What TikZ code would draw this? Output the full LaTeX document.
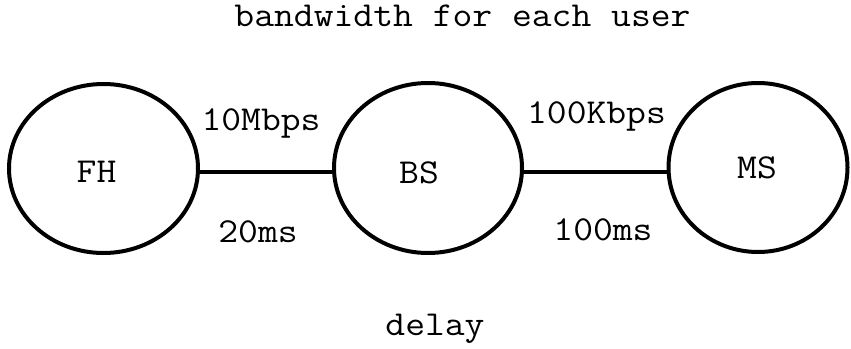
\documentclass[tikz,border=0pt]{standalone}
\usetikzlibrary{shapes.geometric}
\tikzset{
  ell/.style={ellipse, draw=black, line width=4pt, inner sep=0pt},
  txt/.style={font=\ttfamily\fontsize{35}{40}\selectfont, inner sep=0pt, anchor=base, xscale=1.1},
  link/.style={draw=black, line width=3.5pt}
}
\begin{document}
\begin{tikzpicture}[x=1pt,y=-1pt]
\useasboundingbox (0,0) rectangle (851,348);
\node[ell, minimum width=189pt, minimum height=169pt] (FH) at (103.5,168.5) {};
\node[ell, minimum width=188pt, minimum height=170pt] (BS) at (428,168) {};
\node[ell, minimum width=179pt, minimum height=169pt] (MS) at (758,167.5) {};
\node[txt] (FHt) at (96.5,182) {FH};
\node[txt] (BSt) at (419,183) {BS};
\node[txt] (MSt) at (757,178) {MS};
\draw[link] ([yshift=-3.5pt]FH.east) -- ([yshift=-4pt]BS.west);
\draw[link] ([yshift=-4pt]BS.east) -- ([yshift=-4.5pt]MS.west);
\node[txt] (bw1) at (261,130) {10Mbps};
\node[txt] (dl1) at (258,242) {20ms};
\node[txt] (bw2) at (596.5,123) {100Kbps};
\node[txt] (dl2) at (603,240) {100ms};
\node[txt] (bwt) at (462.5,26) {bandwidth for each user};
\node[txt] (dlt) at (435,335) {delay};
\end{tikzpicture}
\end{document}
